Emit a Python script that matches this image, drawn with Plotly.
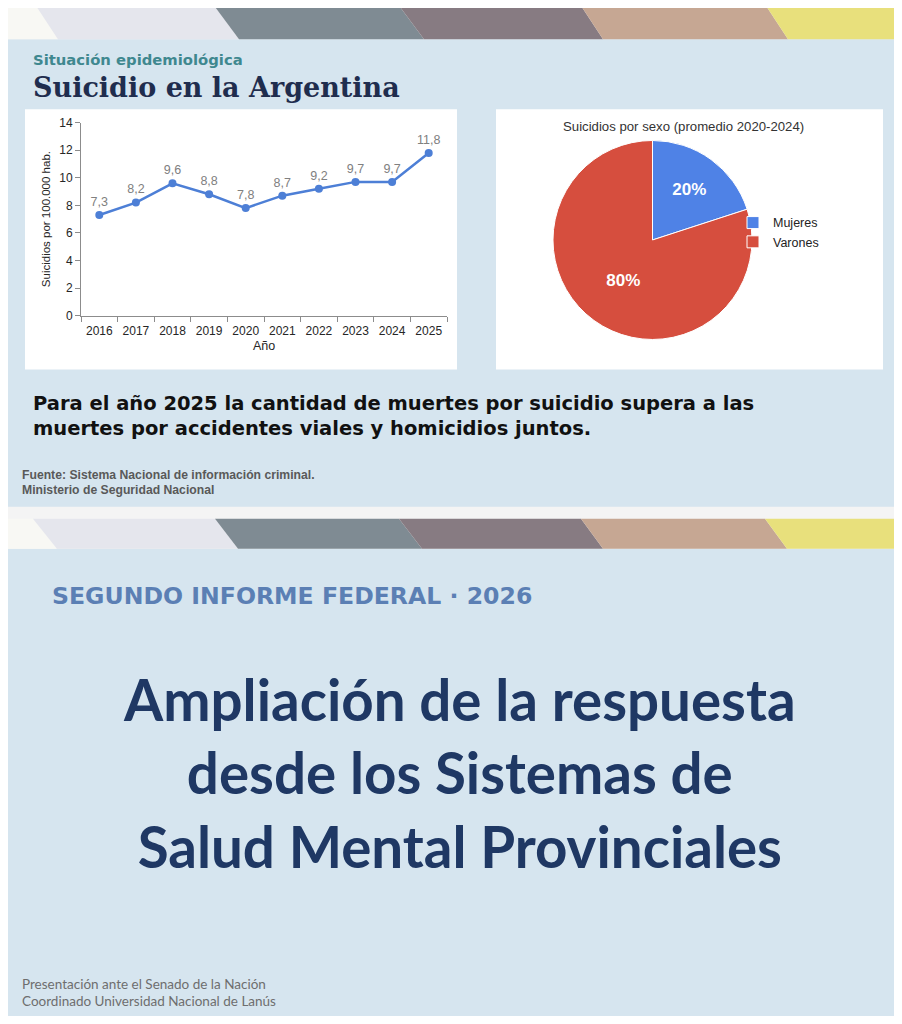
import plotly.graph_objects as go

# The page body has an 8px margin; draw the figure inside it so nothing overflows.
OFF = 8
FW, FH = 902 - 2 * OFF, 1024 - 2 * OFF
# measured vertical mapping of the rendered page (render_y = VS * page_y + VB)
VS, VB = 0.985, 7.9

# ---------------- data ----------------
years = ["2016", "2017", "2018", "2019", "2020", "2021", "2022", "2023", "2024", "2025"]
rates = [7.3, 8.2, 9.6, 8.8, 7.8, 8.7, 9.2, 9.7, 9.7, 11.8]
y_ticks = [0, 2, 4, 6, 8, 10, 12, 14]
sex_labels = ["Mujeres", "Varones"]
sex_shares = [20, 80]
sex_colors = ["#4f82e6", "#d64e3e"]


def fx(p):
    return (p - OFF) / FW


def fy(p):
    page_y = (p - VB) / VS
    return 1 - (page_y - OFF) / FH


rate_labels = [f"{v:.1f}".replace(".", ",") for v in rates]

fig = go.Figure()

fig.add_trace(go.Scatter(
    x=years, y=rates, mode="lines+markers+text",
    text=rate_labels, textposition="top center",
    textfont=dict(family="Liberation Sans, Arial", size=12.5, color="#808080"),
    line=dict(color="#4d7fd6", width=2.5),
    marker=dict(color="#4d7fd6", size=8),
    showlegend=False, hoverinfo="skip", cliponaxis=False,
    xaxis="x", yaxis="y",
))

fig.add_trace(go.Pie(
    labels=sex_labels, values=sex_shares, sort=False, direction="clockwise",
    rotation=0, textinfo="percent", textposition="inside",
    insidetextorientation="horizontal",
    texttemplate="%{percent:.0%}",
    textfont=dict(family="Liberation Sans, Arial", size=17, color="white", weight="bold"),
    marker=dict(colors=sex_colors, line=dict(color="white", width=1)),
    domain=dict(x=[fx(553), fx(752)], y=[fy(340), fy(141)]),
    showlegend=True, hoverinfo="skip",
))

shapes = []

# slide bodies
slide_bg = "#d6e5ef"
shapes.append(dict(type="rect", xref="paper", yref="paper", layer="below",
                   x0=fx(5), x1=fx(897), y0=fy(507), y1=fy(40),
                   fillcolor=slide_bg, line=dict(width=0)))
shapes.append(dict(type="rect", xref="paper", yref="paper", layer="below",
                   x0=fx(5), x1=fx(897), y0=fy(1020), y1=fy(549),
                   fillcolor=slide_bg, line=dict(width=0)))

# banners
stripe_colors = ["#f8f8f4", "#e5e6ed", "#7f8b93", "#877b82", "#c6a793", "#e8e07c"]


def banner(top, bottom, bounds):
    out = []
    edges = [(5, 5)] + bounds + [(897, 897)]
    for i, col in enumerate(stripe_colors):
        (t0, b0), (t1, b1) = edges[i], edges[i + 1]
        path = (f"M {fx(t0)},{fy(top)} L {fx(t1)},{fy(top)} "
                f"L {fx(b1)},{fy(bottom)} L {fx(b0)},{fy(bottom)} Z")
        out.append(dict(type="path", xref="paper", yref="paper", layer="below",
                        path=path, fillcolor=col, line=dict(width=0)))
    return out


shapes += banner(5, 40, [(35, 58), (213, 239), (398, 424), (580, 603), (765, 788)])
shapes += banner(519, 549, [(33, 57), (215, 238), (399, 422), (581, 603), (765, 787)])

# white chart panels
shapes.append(dict(type="rect", xref="paper", yref="paper", layer="below",
                   x0=fx(25), x1=fx(457), y0=fy(370), y1=fy(110),
                   fillcolor="white", line=dict(width=0)))
shapes.append(dict(type="rect", xref="paper", yref="paper", layer="below",
                   x0=fx(496), x1=fx(883), y0=fy(370), y1=fy(110),
                   fillcolor="white", line=dict(width=0)))

annotations = []


def note(text, x, y, size, color, family, weight="normal", xanchor="left", align="left"):
    annotations.append(dict(
        text=text, xref="paper", yref="paper", x=fx(x), y=fy(y),
        xanchor=xanchor, yanchor="middle", showarrow=False, align=align,
        font=dict(family=family, size=size, color=color, weight=weight),
    ))


note("Situación epidemiológica", 31, 60, 14.8, "#3f888f", "DejaVu Sans", "bold")
note("Suicidio en la Argentina", 31, 88, 27, "#1f2d4e", "DejaVu Serif", "bold")
note("Suicidios por sexo (promedio 2020-2024)", 683, 127, 13.2, "#333333",
     "Liberation Sans, Arial", xanchor="center", align="center")
note("Para el año 2025 la cantidad de muertes por suicidio supera a las<br>"
     "muertes por accidentes viales y homicidios juntos.",
     31, 416, 19.5, "#111111", "DejaVu Sans", "bold")
note("Fuente: Sistema Nacional de información criminal.", 20, 475, 12.2, "#595959",
     "Liberation Sans, Arial", "bold")
note("Ministerio de Seguridad Nacional", 20, 490, 12.2, "#595959",
     "Liberation Sans, Arial", "bold")
note("SEGUNDO INFORME FEDERAL · 2026", 50, 596, 23.6, "#5b7fb4", "DejaVu Sans", "bold")
note("Ampliación de la respuesta<br>desde los Sistemas de<br>Salud Mental Provinciales",
     459, 772, 56.5, "#1f3864", "Lato", "bold", xanchor="center", align="center")
note("Presentación ante el Senado de la Nación", 20, 984, 13.5, "#6e6e6e", "Lato")
note("Coordinado Universidad Nacional de Lanús", 20, 1001, 13.5, "#6e6e6e", "Lato")

axis_font = dict(family="Liberation Sans, Arial", size=12, color="#262626")

fig.update_layout(
    width=FW, height=FH, margin=dict(l=0, r=0, t=0, b=0),
    paper_bgcolor="#f4f4f4", plot_bgcolor="rgba(0,0,0,0)",
    shapes=shapes, annotations=annotations,
    xaxis=dict(
        domain=[fx(81), fx(447)], type="category", range=[-0.5, 9.5],
        showline=True, linecolor="#8c8c8c", linewidth=1,
        ticks="outside", tickson="boundaries", ticklen=5, tickcolor="#8c8c8c",
        tickfont=axis_font, tickangle=0, ticklabelstandoff=4,
        showgrid=False, zeroline=False,
        title=dict(text="Año", font=dict(family="Liberation Sans, Arial", size=12.5, color="#262626"),
                   standoff=4),
        anchor="y", fixedrange=True,
    ),
    yaxis=dict(
        domain=[fy(316), fy(123.3)], range=[0, 14], tickvals=y_ticks,
        showline=True, linecolor="#8c8c8c", linewidth=1,
        ticks="outside", ticklen=5, tickcolor="#8c8c8c",
        tickfont=axis_font, showgrid=False, zeroline=False,
        title=dict(text="Suicidios por 100.000 hab.",
                   font=dict(family="Liberation Sans, Arial", size=11.5, color="#262626"),
                   standoff=6),
        anchor="x", fixedrange=True,
    ),
    legend=dict(
        x=fx(733), y=fy(233), xanchor="left", yanchor="middle",
        bgcolor="rgba(0,0,0,0)", font=dict(family="Liberation Sans, Arial", size=12.5, color="#222222"),
        itemclick=False, itemdoubleclick=False,
    ),
    showlegend=True,
)

fig.write_html("out.html", config={"displayModeBar": False})
